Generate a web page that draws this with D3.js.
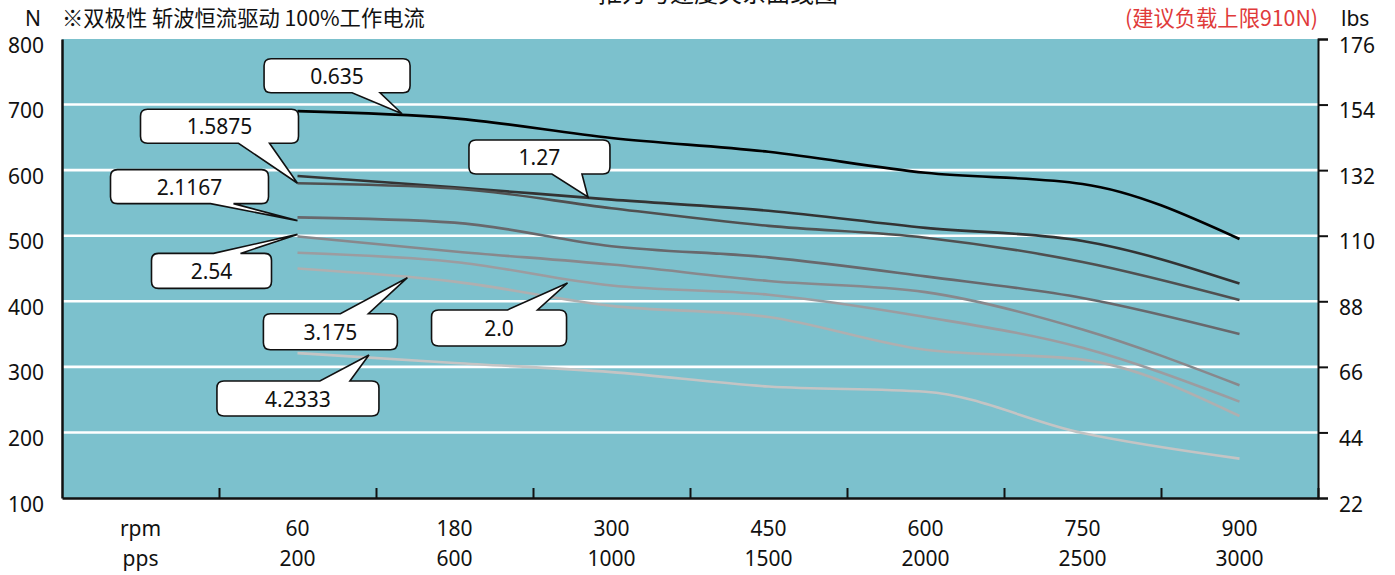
<!DOCTYPE html>
<html><head><meta charset="utf-8">
<script src="https://cdn.jsdelivr.net/npm/d3@7"></script>
<style>
html,body{margin:0;padding:0;background:#fff;}
svg{display:block;font-family:"Noto Sans","Noto Sans CJK SC",sans-serif;}
</style></head>
<body>
<svg id="c" width="1395" height="575"></svg>
<script>
// ---- data ----
const rpmLabels = ["60","180","300","450","600","750","900"];
const ppsLabels = ["200","600","1000","1500","2000","2500","3000"];
const leadNames = ["0.635","1.27","1.5875","2.1167","2.54","2.0","3.175","4.2333"];
const v0635  = [690, 679, 649, 628, 596, 579, 495];
const v127   = [591, 574, 555, 538, 512, 492, 427];
const v15875 = [580, 572, 542, 515, 497, 460, 402];
const v21167 = [528, 520, 484, 467, 438, 405, 350];
const v254   = [499, 476, 456, 431, 414, 357, 272];
const v20    = [474, 460, 424, 410, 376, 329, 247];
const v3175  = [450, 430, 393, 376, 326, 311, 225];
const v42333 = [321, 306, 292, 270, 262, 199, 160];
const seriesValues = [v0635, v127, v15875, v21167, v254, v20, v3175, v42333];
const forceTicks = [100,200,300,400,500,600,700,800];
const lbsTicks = [22,44,66,88,110,132,154,176];
// callout tips: fractional category position (0 = 60rpm) and force value
const tipPos = [0.666, 1.85, 0, 0, 0, 1.72, 0.70, 0.455];
const tipVal = [686, 559, 580, 523, 502, 428, 436, 318];

// ---- layout ----
const L = 62, R = 1318, T = 39, B = 498;
const colors = ["#000000","#333333","#505050","#68686c","#88888c","#9c9ca0","#afafb0","#c4c4c4"];
const widths = [2.6,2.6,2.6,2.6,2.6,2.6,2.6,2.6];
// callout boxes relative to tip: [dxLeft, dyTop, w, h, baseStart, baseEnd, side]
const boxes = [
  [-138,-55,146,34, 88,116,"b"],
  [-119,-57,141,34, 83,113,"b"],
  [-157,-74,158,34, 98,129,"b"],
  [-187,-51,158,34,100,123,"b"],
  [-146, 19,120,35, 62, 89,"t"],
  [-136, 27,135,36, 76,106,"t"],
  [-144, 36,134,36, 77,105,"t"],
  [-152, 26,162,35,103,133,"t"]
];
const FS = 21;

const svg = d3.select("#c");
const xi = d3.scaleLinear().domain([0,8]).range([L,R]);
const y = d3.scaleLinear().domain([100,800]).range([B,T]);
const yR = d3.scaleLinear().domain([22,176]).range([B,T]);
const xCat = i => xi(i + 1.5);

// background
svg.append("rect").attr("x",L).attr("y",T).attr("width",R-L).attr("height",B-T).attr("fill","#7cc1cd");
// gridlines
svg.append("g").selectAll("line").data(forceTicks.filter(d => d>100 && d<800)).join("line")
  .attr("x1",L).attr("x2",R).attr("y1",d=>y(d)).attr("y2",d=>y(d))
  .attr("stroke","#fff").attr("stroke-width",2.6);

// lines
const line = d3.line().x((d,i)=>xCat(i)).y(d=>y(d)).curve(d3.curveMonotoneX);
svg.append("g").selectAll("path").data(seriesValues).join("path")
  .attr("d", d => line(d)).attr("fill","none")
  .attr("stroke",(d,i)=>colors[i]).attr("stroke-width",(d,i)=>widths[i]);

// axes
const gl = svg.append("g").attr("transform",`translate(${L},0)`)
  .call(d3.axisLeft(y).tickValues(forceTicks).tickSize(0).tickPadding(18));
gl.select(".domain").attr("stroke","#111").attr("stroke-width",2.5);
gl.selectAll("text").attr("font-size",FS).attr("fill","#111").attr("font-family","Noto Sans").attr("dy","0.62em");

const gr = svg.append("g").attr("transform",`translate(${R},0)`)
  .call(d3.axisRight(yR).tickValues(lbsTicks).tickSize(10).tickPadding(11));
gr.select(".domain").attr("stroke","#111").attr("stroke-width",2);
gr.selectAll(".tick line").attr("stroke","#111").attr("stroke-width",2);
gr.selectAll("text").attr("font-size",FS).attr("fill","#111").attr("font-family","Noto Sans").attr("dy","0.62em");

const gb = svg.append("g").attr("transform",`translate(0,${B})`)
  .call(d3.axisBottom(xi).tickValues([1,2,3,4,5,6,7,8]).tickSize(-10).tickSizeOuter(0).tickFormat(""));
gb.select(".domain").attr("stroke","#111").attr("stroke-width",2.5);
gb.selectAll(".tick line").attr("stroke","#111").attr("stroke-width",2);

// category labels
const catG = svg.append("g").attr("font-size",FS).attr("fill","#111").attr("text-anchor","middle");
catG.append("text").attr("x",xi(0.5)).attr("y",536).text("rpm");
catG.append("text").attr("x",xi(0.5)).attr("y",566).text("pps");
catG.selectAll("text.r").data(rpmLabels).join("text").attr("class","r")
  .attr("x",(d,i)=>xCat(i)).attr("y",536).text(d=>d);
catG.selectAll("text.p").data(ppsLabels).join("text").attr("class","p")
  .attr("x",(d,i)=>xCat(i)).attr("y",566).text(d=>d);

// header texts
svg.append("text").attr("x",25).attr("y",26).attr("font-size",FS).attr("fill","#111").text("N");
svg.append("text").attr("x",62).attr("y",26).attr("font-size",21.3).attr("fill","#111")
  .attr("font-family","Noto Sans CJK SC").text("※双极性 斩波恒流驱动 100%工作电流");
svg.append("text").attr("x",1318).attr("y",26).attr("font-size",21.3).attr("fill","#e03a3a")
  .attr("text-anchor","end").attr("font-family","Noto Sans CJK SC").text("(建议负载上限910N)");
svg.append("text").attr("x",1341).attr("y",26).attr("font-size",FS).attr("fill","#111").text("lbs");
svg.append("text").attr("x",718).attr("y",2).attr("font-size",24).attr("fill","#111")
  .attr("text-anchor","middle").attr("font-family","Noto Sans CJK SC").text("推力与速度关系曲线图");

// callouts
function calloutPath(tx, ty, b) {
  const [dx, dy, w, h, b0, b1, side] = b;
  const x = tx + dx, yy = ty + dy, r = 7;
  let p = `M${x+r},${yy}`;
  if (side === "t") p += `L${x+b0},${yy}L${tx},${ty}L${x+b1},${yy}`;
  p += `L${x+w-r},${yy}Q${x+w},${yy} ${x+w},${yy+r}L${x+w},${yy+h-r}Q${x+w},${yy+h} ${x+w-r},${yy+h}`;
  if (side === "b") p += `L${x+b1},${yy+h}L${tx},${ty}L${x+b0},${yy+h}`;
  p += `L${x+r},${yy+h}Q${x},${yy+h} ${x},${yy+h-r}L${x},${yy+r}Q${x},${yy} ${x+r},${yy}Z`;
  return p;
}
const cg = svg.append("g");
leadNames.forEach((name, i) => {
  const tx = xCat(tipPos[i]), ty = y(tipVal[i]);
  const b = boxes[i];
  cg.append("path").attr("d", calloutPath(tx, ty, b))
    .attr("fill","#fff").attr("stroke","#111").attr("stroke-width",1.6).attr("stroke-linejoin","miter");
  cg.append("text").attr("x", tx + b[0] + b[2]/2).attr("y", ty + b[1] + b[3]/2 + 8)
    .attr("text-anchor","middle").attr("font-size",FS).attr("fill","#111").text(name);
});
</script>
</body></html>
